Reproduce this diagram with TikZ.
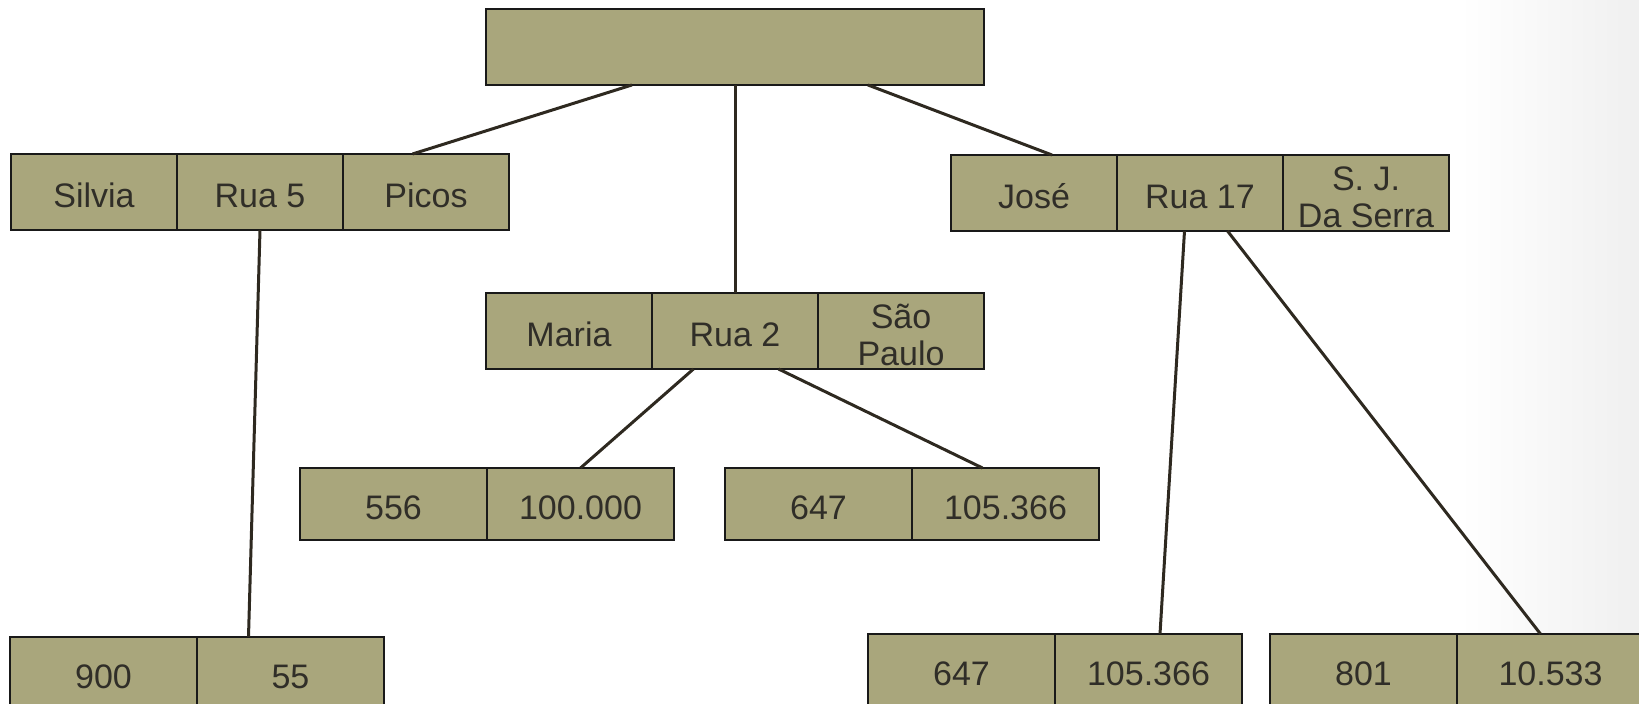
\documentclass[tikz,border=0pt]{standalone}
\usepackage{fontspec}
\setmainfont{Liberation Sans}
\usepackage{tikz}
\usetikzlibrary{positioning,calc}
\definecolor{khaki}{RGB}{169,166,124}
\definecolor{linebrown}{RGB}{46,41,32}
\definecolor{txtgray}{RGB}{48,46,40}

\begin{document}
\begin{tikzpicture}[
    x=0.5pt, y=-0.5pt,
    node distance=0pt,
    font=\fontsize{17}{18.6}\selectfont,
    cellbase/.style={
		rectangle,
		draw=black!90,
		line width=0.6pt,
		fill=khaki,
		text=txtgray,
		align=center,
		inner sep=0pt,
		outer sep=0pt,
		minimum width=83pt,
		minimum height=38pt
	},
	field/.style={
		cellbase,
		text height=15.5pt
	},
	twoline/.style={
		cellbase,
		text height=34.5pt
	},
	pair/.style={
		field,
		minimum width=93.5pt,
		minimum height=36pt
	},
	link/.style={
		draw=linebrown,
		line width=1.5pt
	}
  ]
  \useasboundingbox (0,0) rectangle (1639,704);
  \shade[left color=white, right color=black!6] (1460,0) rectangle (1639,704);

  % top record
  \node [field, minimum width=249pt, anchor=north west] (root) at (486,9) {};

  % records of the second level
  \node [field, anchor=north west] (silvia) at (11,154) {Silvia};
  \node [field, right=of silvia] (rua5) {Rua 5};
  \node [field, right=of rua5] (picos) {Picos};

  \node [field, anchor=north west] (maria) at (486,293) {Maria};
  \node [field, right=of maria] (rua2) {Rua 2};
  \node [twoline, right=of rua2] (saopaulo) {São\\Paulo};

  \node [field, anchor=north west] (jose) at (951,155) {José};
  \node [field, right=of jose] (rua17) {Rua 17};
  \node [twoline, right=of rua17] (sjserra) {S. J.\\Da Serra};

  % value pairs
  \node [pair, anchor=north west] (n556) at (300,468) {556};
  \node [pair, right=of n556] (n100) {100.000};

  \node [pair, anchor=north west] (n647a) at (725,468) {647};
  \node [pair, right=of n647a] (n105a) {105.366};

  \node [pair, anchor=north west] (n900) at (10,637) {900};
  \node [pair, right=of n900] (n55) {55};

  \node [pair, anchor=north west] (n647b) at (868,634) {647};
  \node [pair, right=of n647b] (n105b) {105.366};

  \node [pair, anchor=north west] (n801) at (1270,634) {801};
  \node [pair, right=of n801] (n10533) {10.533};

  \draw [link] ($(root.south west)!0.293!(root.south east)$) -- ([xshift=-6.75pt]picos.north);
  \draw [link] (root.south) -- (root.south |- rua2.north);
  \draw [link] ($(root.south west)!0.767!(root.south east)$) -- ([xshift=9pt]jose.north);
  \draw [link] (rua5.south) -- ([xshift=-21pt]n55.north);
  \draw [link] ([xshift=-20.75pt]rua2.south) -- (n100.north);
  \draw [link] ([xshift=21.75pt]rua2.south) -- ([xshift=-11.5pt]n105a.north);
  \draw [link] ([xshift=-7.75pt]rua17.south) -- ([xshift=5.75pt]n105b.north);
  \draw [link] ([xshift=13.75pt]rua17.south) -- ([xshift=-5pt]n10533.north);

\end{tikzpicture}
\end{document}
